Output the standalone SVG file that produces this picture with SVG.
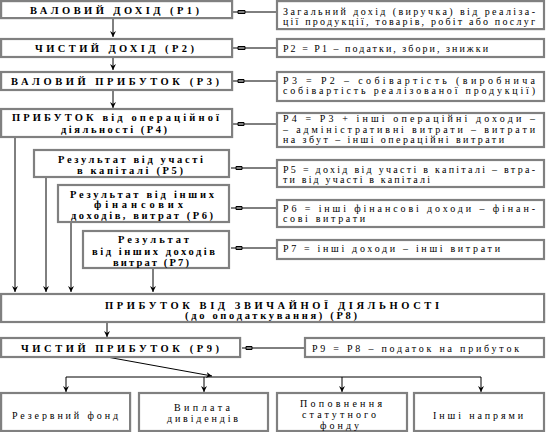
<svg xmlns="http://www.w3.org/2000/svg" width="546" height="432" viewBox="0 0 546 432">
<style>
.box{fill:#fff;stroke:#808080;stroke-width:2.2}
.t{font-family:"Liberation Serif",serif;font-weight:bold;font-size:10.5px;fill:#000}
.r{font-family:"Liberation Serif",serif;font-size:10px;fill:#000}
.c line,.c path{stroke:#000;stroke-width:1;fill:none}
</style>
<defs>
<marker id="ah" markerWidth="7" markerHeight="6" refX="6" refY="3" orient="auto" markerUnits="userSpaceOnUse">
<path d="M0,0 L6,3 L0,6 L2,3 Z" fill="#000"/>
</marker>
</defs>
<rect width="546" height="432" fill="#fff"/>
<g class="c" id="connectors">
<line x1="113" y1="19" x2="113" y2="37" marker-end="url(#ah)"/>
<line x1="113" y1="58" x2="113" y2="70" marker-end="url(#ah)"/>
<line x1="113" y1="91" x2="113" y2="108" marker-end="url(#ah)"/>
<line x1="276" y1="12" x2="233" y2="12"/><path d="M238,10.5 L245,10.5 L245,13.5 L238,13.5 Z" fill="#000" stroke="none"/>
<line x1="276" y1="48" x2="233" y2="48"/><path d="M238,46.5 L245,46.5 L245,49.5 L238,49.5 Z" fill="#000" stroke="none"/>
<line x1="276" y1="81" x2="233" y2="81"/><path d="M238,79.5 L244,79.5 L244,82.5 L238,82.5 Z" fill="#000" stroke="none"/>
<line x1="276" y1="124" x2="233" y2="124"/><path d="M238,122.5 L244,122.5 L244,125.5 L238,125.5 Z" fill="#000" stroke="none"/>
<line x1="276" y1="168" x2="231" y2="168"/><path d="M236,166.5 L242,166.5 L242,169.5 L236,169.5 Z" fill="#000" stroke="none"/>
<line x1="276" y1="208" x2="231" y2="208"/><path d="M236,206.5 L242,206.5 L242,209.5 L236,209.5 Z" fill="#000" stroke="none"/>
<line x1="276" y1="248" x2="231" y2="248"/><path d="M236,246.5 L242,246.5 L242,249.5 L236,249.5 Z" fill="#000" stroke="none"/>
<line x1="304" y1="348" x2="242" y2="348"/><path d="M246,346.5 L252,346.5 L252,349.5 L246,349.5 Z" fill="#000" stroke="none"/>
<line x1="15" y1="138" x2="15" y2="292" marker-end="url(#ah)"/>
<line x1="46" y1="178" x2="46" y2="292" marker-end="url(#ah)"/>
<line x1="71" y1="223" x2="71" y2="292" marker-end="url(#ah)"/>
<line x1="153" y1="269" x2="153" y2="292" marker-end="url(#ah)"/>
<line x1="107" y1="323" x2="107" y2="337" marker-end="url(#ah)"/>
<line x1="107" y1="357" x2="212" y2="376" marker-end="url(#ah)"/>
<line x1="66" y1="377" x2="481" y2="377"/>
<line x1="66" y1="377" x2="66" y2="392" marker-end="url(#ah)"/>
<line x1="204" y1="377" x2="204" y2="392" marker-end="url(#ah)"/>
<line x1="342" y1="377" x2="342" y2="392" marker-end="url(#ah)"/>
<line x1="481" y1="377" x2="481" y2="392" marker-end="url(#ah)"/>
</g>
<g id="p1"><rect class="box" x="1.1" y="1.1" width="231" height="17"/><text class="t" x="30" y="13.5" textLength="169">ВАЛОВИЙ ДОХІД (Р1)</text></g>
<g id="p2"><rect class="box" x="1.1" y="39" width="231" height="18"/><text class="t" x="35" y="52" textLength="159">ЧИСТИЙ ДОХІД (Р2)</text></g>
<g id="p3"><rect class="box" x="1.1" y="72" width="231" height="18"/><text class="t" x="11" y="85" textLength="208">ВАЛОВИЙ ПРИБУТОК (Р3)</text></g>
<g id="p4"><rect class="box" x="1.1" y="109" width="231" height="28"/><text class="t" x="12" y="121" textLength="207">ПРИБУТОК від операційної</text><text class="t" x="61" y="133" textLength="106">діяльності (Р4)</text></g>
<g id="p5"><rect class="box" x="34" y="150" width="195" height="27"/><text class="t" x="58" y="162.5" textLength="145">Результат від участі</text><text class="t" x="77" y="173.5" textLength="106">в  капіталі (Р5)</text></g>
<g id="p6"><rect class="box" x="58" y="185" width="171" height="37"/><text class="t" x="70" y="197.5" textLength="144">Результат від інших</text><text class="t" x="94" y="208" textLength="89">фінансових</text><text class="t" x="71" y="218.5" textLength="142">доходів, витрат (Р6)</text></g>
<g id="p7"><rect class="box" x="83" y="231" width="146" height="37"/><text class="t" x="118" y="243" textLength="71">Результат</text><text class="t" x="92" y="254.5" textLength="123">від інших доходів</text><text class="t" x="113" y="265.5" textLength="76">витрат (Р7)</text></g>
<g id="r1"><rect class="box" x="277" y="1.1" width="267" height="28"/><text class="r" x="283" y="15" textLength="252">Загальний дохід (виручка) від реаліза-</text><text class="r" x="283" y="25" textLength="252">ції продукції, товарів, робіт або послуг</text></g>
<g id="r2"><rect class="box" x="277" y="39" width="267" height="18"/><text class="r" x="283" y="51.5" textLength="205">Р2 = Р1 – податки, збори, знижки</text></g>
<g id="r3"><rect class="box" x="277" y="72" width="267" height="29"/><text class="r" x="283" y="83.5" textLength="252">Р3 = Р2 – собівартість (виробнича</text><text class="r" x="283" y="93.5" textLength="252">собівартість реалізованої продукції)</text></g>
<g id="r4"><rect class="box" x="277" y="113" width="267" height="34"/><text class="r" x="283" y="122" textLength="252">Р4 = Р3 + інші операційні доходи –</text><text class="r" x="283" y="133" textLength="252">– адміністративні витрати – витрати</text><text class="r" x="283" y="143" textLength="221">на збут – інші операційні витрати</text></g>
<g id="r5"><rect class="box" x="277" y="160" width="267" height="27"/><text class="r" x="283" y="173" textLength="252">Р5 = дохід від участі в капіталі – втра-</text><text class="r" x="283" y="183" textLength="147">ти від участі в капіталі</text></g>
<g id="r6"><rect class="box" x="277" y="200" width="267" height="27"/><text class="r" x="283" y="212" textLength="252">Р6 = інші фінансові доходи – фінан-</text><text class="r" x="283" y="222" textLength="82">сові витрати</text></g>
<g id="r7"><rect class="box" x="277" y="240" width="267" height="19"/><text class="r" x="283" y="251.5" textLength="217">Р7 = інші доходи – інші витрати</text></g>
<g id="p8"><rect class="box" x="1.1" y="294" width="543" height="28"/><text class="t" x="105" y="308.5" textLength="334">ПРИБУТОК ВІД ЗВИЧАЙНОЇ ДІЯЛЬНОСТІ</text><text class="t" x="185" y="319" textLength="172">(до оподаткування) (Р8)</text></g>
<g id="p9"><rect class="box" x="1.1" y="338" width="239" height="19"/><text class="t" x="21" y="351.5" textLength="198">ЧИСТИЙ ПРИБУТОК (Р9)</text></g>
<g id="r9"><rect class="box" x="305" y="338" width="239" height="19"/><text class="r" x="312" y="351.5" textLength="207">Р9 = Р8 – податок на прибуток</text></g>
<g id="u1"><rect class="box" x="1.1" y="393" width="129" height="38"/><text class="r" x="12" y="419" textLength="106">Резервний фонд</text></g>
<g id="u2"><rect class="box" x="139" y="393" width="129" height="38"/><text class="r" x="174" y="411" textLength="56">Виплата</text><text class="r" x="167" y="422" textLength="71">дивідендів</text></g>
<g id="u3"><rect class="box" x="277" y="393" width="130" height="38"/><text class="r" x="300" y="407" textLength="82">Поповнення</text><text class="r" x="302" y="418" textLength="74">статутного</text><text class="r" x="320" y="428.5" textLength="39">фонду</text></g>
<g id="u4"><rect class="box" x="414" y="393" width="130" height="38"/><text class="r" x="433" y="419" textLength="90">Інші напрями</text></g>
</svg>
